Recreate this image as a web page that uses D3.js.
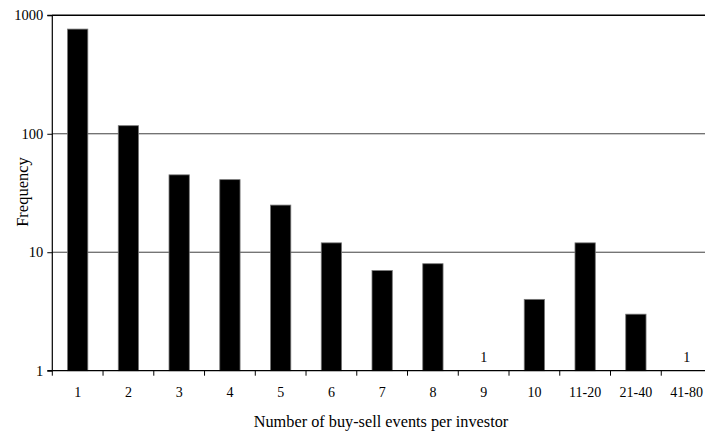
<!DOCTYPE html>
<html>
<head>
<meta charset="utf-8">
<script src="https://cdn.jsdelivr.net/npm/d3@7"></script>
<style>
  html, body { margin: 0; padding: 0; background: #fff; }
  svg { display: block; }
  svg text { font-family: "Liberation Serif", serif; fill: #000; }
</style>
</head>
<body>
<svg id="chart" width="705" height="432"></svg>
<script>
// Distribution of buy-sell events per investor
const categories = ["1", "2", "3", "4", "5", "6", "7", "8", "9", "10", "11-20", "21-40", "41-80"];
const frequencies = [765, 117, 45, 41, 25, 12, 7, 8, 1, 4, 12, 3, 1];
const yTicks = [1, 10, 100, 1000];

const svg = d3.select("#chart");
const plotLeft = 52.3, plotRight = 712, plotTop = 15.3, plotBottom = 370.7;

const x = d3.scaleBand()
  .domain(categories)
  .range([plotLeft, plotRight])
  .paddingInner(0.6)
  .paddingOuter(0.3);

const y = d3.scaleLog()
  .domain([1, 1000])
  .range([plotBottom, plotTop]);

// horizontal gridlines at each decade
svg.append("g")
  .selectAll("line")
  .data(yTicks.slice(1))
  .join("line")
  .attr("x1", plotLeft).attr("x2", 705)
  .attr("y1", d => y(d)).attr("y2", d => y(d))
  .attr("stroke", "#000")
  .attr("stroke-width", d => d === 1000 ? 1.4 : 1)
  .attr("stroke-opacity", d => d === 1000 ? 1 : 0.75);

// bars
const rows = categories.map((c, i) => ({ c, v: frequencies[i] }));
svg.append("g")
  .selectAll("rect")
  .data(rows)
  .join("rect")
  .attr("x", d => x(d.c))
  .attr("width", x.bandwidth())
  .attr("y", d => y(d.v))
  .attr("height", d => plotBottom - y(d.v))
  .attr("fill", "#000")
  .attr("stroke", "#777")
  .attr("stroke-width", 0.8);

// value labels for bars too short to see
svg.append("g")
  .selectAll("text")
  .data(rows.filter(d => d.v === 1))
  .join("text")
  .attr("x", d => x(d.c) + x.bandwidth() / 2)
  .attr("y", plotBottom - 9)
  .attr("text-anchor", "middle")
  .attr("font-size", 14)
  .text(d => d.v);

// y axis
const yAxis = d3.axisLeft(y)
  .tickValues(yTicks)
  .tickFormat(d3.format("d"))
  .tickSize(5)
  .tickPadding(4);
const gy = svg.append("g")
  .attr("transform", `translate(${plotLeft},0)`)
  .call(yAxis)
  .attr("font-family", null)
  .attr("font-size", null);
gy.select(".domain").attr("stroke", "#000").attr("stroke-width", 1.2)
  .attr("d", `M-5,${plotBottom}H0V${plotTop}H-5`);
gy.selectAll(".tick text").attr("font-size", 14.5).attr("fill", "#000");
gy.selectAll(".tick line").attr("stroke", "#000");

// x axis with ticks on category boundaries
const gx = svg.append("g")
  .attr("transform", `translate(0,${plotBottom})`);
gx.append("line")
  .attr("x1", plotLeft).attr("x2", 705)
  .attr("stroke", "#000").attr("stroke-width", 1.2);
const step = x.step();
gx.selectAll("line.tk")
  .data(d3.range(categories.length + 1))
  .join("line")
  .attr("class", "tk")
  .attr("x1", i => plotLeft + i * step).attr("x2", i => plotLeft + i * step)
  .attr("y1", 0).attr("y2", 5)
  .attr("stroke", "#000");
gx.selectAll("text")
  .data(categories)
  .join("text")
  .attr("x", d => x(d) + x.bandwidth() / 2)
  .attr("y", 26)
  .attr("text-anchor", "middle")
  .attr("font-size", 14)
  .text(d => d);

// axis titles
svg.append("text")
  .attr("x", 381)
  .attr("y", 427)
  .attr("text-anchor", "middle")
  .attr("font-size", 16.3)
  .text("Number of buy-sell events per investor");

svg.append("text")
  .attr("transform", "translate(28,192) rotate(-90)")
  .attr("text-anchor", "middle")
  .attr("font-size", 16.5)
  .text("Frequency");
</script>
</body>
</html>
